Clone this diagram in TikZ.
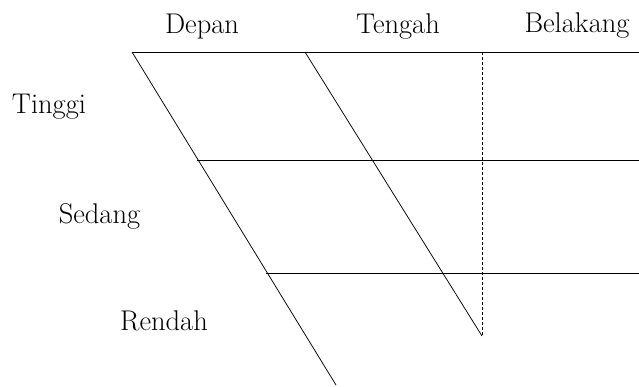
\documentclass[tikz,border=0pt]{standalone}
\begin{document}
\begin{tikzpicture}[x=1pt,y=-1pt,
  rule/.style={line width=0.75pt,black},
  guide/.style={line width=0.6pt,black,dash pattern=on 3pt off 2pt},
  lab/.style={anchor=base,inner sep=0pt,font=\fontsize{28.5}{32}\selectfont}]
\useasboundingbox (0,0) rectangle (639,386);
% corner points
\coordinate (tl) at (132,52);
\coordinate (tr) at (639,52);
\coordinate (mt) at (305,52);
\coordinate (vt) at (482,52);
\coordinate (ml) at (197,160);
\coordinate (mr) at (639,160);
\coordinate (ll) at (266,273);
\coordinate (lr) at (639,273);
\coordinate (lend) at (336,385);
\coordinate (mend) at (482,336);
% lines
\draw[rule] (tl) -- (tr);
\draw[rule] (ml) -- (mr);
\draw[rule] (ll) -- (lr);
\draw[rule] (tl) -- (lend);
\draw[rule] (mt) -- (mend);
\draw[guide] (vt) -- (mend);
% labels
\node[lab] (depan) at (202,33) {Depan};
\node[lab] (tengah) at (398,33) {Tengah};
\node[lab] (belakang) at (577,32) {Belakang};
\node[lab] (tinggi) at (49,113) {Tinggi};
\node[lab] (sedang) at (99.5,223) {Sedang};
\node[lab] (rendah) at (164,330) {Rendah};
\end{tikzpicture}
\end{document}
